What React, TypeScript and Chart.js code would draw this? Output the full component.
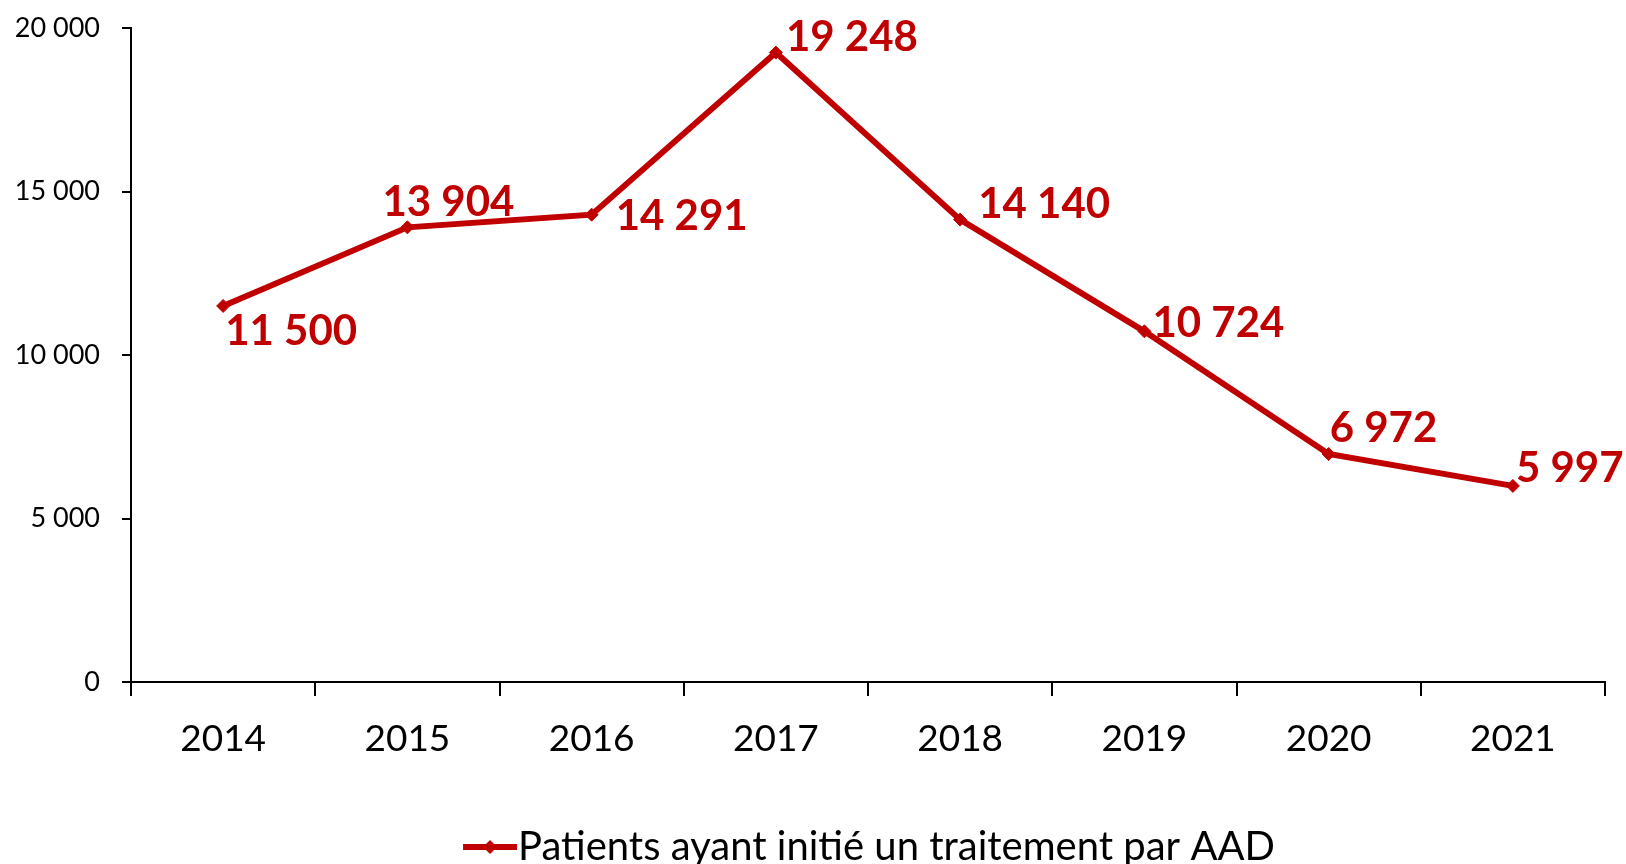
import React, { useEffect, useRef } from "react";
import { Chart, registerables } from "chart.js";

Chart.register(...registerables);

const YEARS = ["2014", "2015", "2016", "2017", "2018", "2019", "2020", "2021"];
const PATIENTS = [11500, 13904, 14291, 19248, 14140, 10724, 6972, 5997];
const Y_TICKS = [0, 5000, 10000, 15000, 20000];
const SERIES_LABEL = "Patients ayant initié un traitement par AAD";

// label placement relative to each point (dx, dy), left-aligned, middle baseline
const LABEL_OFFSETS: [number, number][] = [
  [2, 26],
  [-25, -25],
  [24, 2],
  [10, -15],
  [18, -15],
  [8, -8],
  [1, -26],
  [3, -17],
];

const RED = "#C00000";
const FONT = "Lato";
const LEGEND_FS = 40;
const LEGEND_BW = 188 - LEGEND_FS / 2;
const LEGEND_LINE = 54;
const LEGEND_PAD = LEGEND_BW - 64 + LEGEND_FS + 8;

const fmt = (n: number) => String(n).replace(/\B(?=(\d{3})+(?!\d))/g, " ");

function makeLegendImage() {
  const c = document.createElement("canvas");
  c.width = LEGEND_LINE + LEGEND_PAD;
  c.height = 20;
  const ctx = c.getContext("2d")!;
  ctx.strokeStyle = RED;
  ctx.lineWidth = 6;
  ctx.beginPath();
  ctx.moveTo(LEGEND_PAD, 10);
  ctx.lineTo(LEGEND_PAD + LEGEND_LINE, 10);
  ctx.stroke();
  ctx.fillStyle = RED;
  const cx = LEGEND_PAD + LEGEND_LINE / 2;
  ctx.beginPath();
  ctx.moveTo(cx, 3);
  ctx.lineTo(cx + 7, 10);
  ctx.lineTo(cx, 17);
  ctx.lineTo(cx - 7, 10);
  ctx.closePath();
  ctx.fill();
  return c;
}

const dataLabels = {
  id: "dataLabels",
  afterDatasetsDraw(chart: any) {
    const ctx = chart.ctx;
    const meta = chart.getDatasetMeta(0);
    ctx.save();
    ctx.font = `bold 42px ${FONT}`;
    ctx.fillStyle = RED;
    ctx.textAlign = "left";
    ctx.textBaseline = "middle";
    meta.data.forEach((pt: any, i: number) => {
      const [dx, dy] = LABEL_OFFSETS[i];
      ctx.fillText(fmt(PATIENTS[i]), pt.x + dx, pt.y + dy);
    });
    ctx.restore();
  },
};

export default function App() {
  const ref = useRef<HTMLCanvasElement>(null);
  useEffect(() => {
    document.body.style.margin = "0";
    const legendImg = makeLegendImage();
    const chart = new Chart(ref.current!, {
      type: "line",
      data: {
        labels: YEARS,
        datasets: [
          {
            label: SERIES_LABEL,
            data: PATIENTS,
            borderColor: RED,
            backgroundColor: RED,
            borderWidth: 6,
            pointStyle: "rectRot",
            pointRadius: 6.5,
            pointBackgroundColor: RED,
            pointBorderColor: RED,
            pointBorderWidth: 1,
            tension: 0,
          },
        ],
      },
      options: {
        responsive: false,
        animation: false,
        layout: { padding: { left: 0, top: 28, right: 21, bottom: -13 } },
        plugins: {
          tooltip: { enabled: false },
          legend: {
            display: true,
            position: "bottom",
            labels: {
              usePointStyle: true,
              pointStyleWidth: LEGEND_BW,
              padding: 0,
              color: "#000",
              font: { family: FONT, size: LEGEND_FS },
              generateLabels: (ch: any) => [
                {
                  text: SERIES_LABEL,
                  fillStyle: RED,
                  strokeStyle: RED,
                  lineWidth: 0,
                  pointStyle: legendImg,
                  hidden: false,
                  datasetIndex: 0,
                  fontColor: "#000",
                },
              ],
            },
          },
        },
        scales: {
          x: {
            offset: true,
            grid: {
              offset: true,
              drawOnChartArea: false,
              drawTicks: true,
              tickLength: 14,
              color: "#000",
              lineWidth: 2,
            },
            border: { display: true, color: "#000", width: 2 },
            ticks: {
              color: "#000",
              padding: 21,
              maxRotation: 0,
              font: { family: FONT, size: 37 },
            },
            afterFit: (s: any) => {
              s.height = 145;
            },
          },
          y: {
            min: 0,
            max: 20000,
            afterBuildTicks: (s: any) => {
              s.ticks = Y_TICKS.map((v) => ({ value: v }));
            },
            grid: {
              drawOnChartArea: false,
              drawTicks: true,
              tickLength: 9,
              color: "#000",
              lineWidth: 2,
            },
            border: { display: true, color: "#000", width: 2 },
            ticks: {
              color: "#000",
              padding: 22,
              font: { family: FONT, size: 27 },
              callback: (v: any) => fmt(Number(v)),
            },
            afterFit: (s: any) => {
              s.width = 131;
              s.paddingTop = 10;
              s.paddingBottom = 10;
            },
          },
        },
      },
      plugins: [dataLabels],
    });
    return () => chart.destroy();
  }, []);
  return (
    <div style={{ width: 1626, height: 864 }}>
      <canvas ref={ref} width={1626} height={864} />
    </div>
  );
}
